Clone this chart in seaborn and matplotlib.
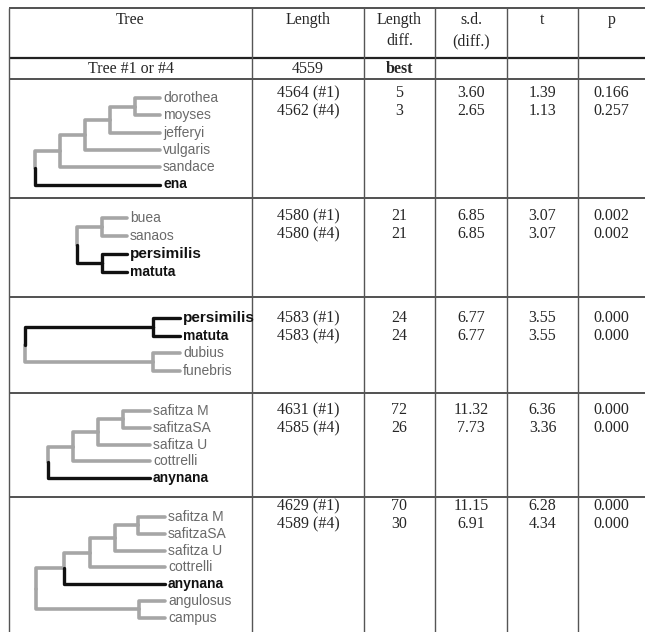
import pandas as pd
import matplotlib.pyplot as plt
import seaborn as sns

sns.set_style("white")
plt.rcParams['font.family'] = ['Liberation Serif', 'DejaVu Serif']

# table values (tree #1 / tree #4 comparisons)
best_length = 4559
length_1 = [4564, 4580, 4583, 4631, 4629]
length_4 = [4562, 4580, 4583, 4585, 4589]
diff_1 = [5, 21, 24, 72, 70]
diff_4 = [3, 21, 24, 26, 30]
sd_1 = [3.60, 6.85, 6.77, 11.32, 11.15]
sd_4 = [2.65, 6.85, 6.77, 7.73, 6.91]
t_1 = [1.39, 3.07, 3.55, 6.36, 6.28]
t_4 = [1.13, 3.07, 3.55, 3.36, 4.34]
p_1 = [0.166, 0.002, 0.000, 0.000, 0.000]
p_4 = [0.257, 0.002, 0.000, 0.000, 0.000]

# constraint trees (branch lengths in plot units) and highlighted taxa
trees = [
    "(((((dorothea:1,moyses:1):1,jefferyi:2):1,vulgaris:3):1,sandace:4):1,ena:5);",
    "((buea:1,sanaos:1):1,(persimilis:1,matuta:1):1);",
    "((persimilis:1.1,matuta:1.1):5.1,(dubius:1.1,funebris:1.1):5.1);",
    "((((safitza M:1.1,safitzaSA:1.1):1,safitza U:2.1):1,cottrelli:3.1):1,anynana:4.1);",
    "(((((safitza M:1.1,safitzaSA:1.1):0.9,safitza U:2):1,cottrelli:3):1.05,anynana:4.05):1.1,"
    "(angulosus:1.05,campus:1.05):4.1);",
]
highlight = [{"ena"}, {"persimilis", "matuta"}, {"persimilis", "matuta"},
             {"anynana"}, {"anynana"}]

# layout (pixels)
col_x = [9, 252, 364, 435, 507, 578]
row_lines = [8, 58, 79, 198, 297, 393, 497]
block_y = [93, 216, 318, 410, 506]
tip_x = [160, 127, 180, 150, 165]
tip_y0 = [98, 218, 318, 411, 517]
tip_dy = [17.3, 18, 17.7, 16.8, 16.8]
unit = 25


def parse(s):
    s = s.strip().rstrip(';')
    pos = 0

    def node():
        nonlocal pos
        kids = []
        name = ''
        if s[pos] == '(':
            pos += 1
            kids.append(node())
            while s[pos] == ',':
                pos += 1
                kids.append(node())
            pos += 1
        else:
            start = pos
            while s[pos] not in ':,)':
                pos += 1
            name = s[start:pos]
        length = 0.0
        if pos < len(s) and s[pos] == ':':
            pos += 1
            start = pos
            while pos < len(s) and s[pos] not in ',)':
                pos += 1
            length = float(s[start:pos])
        return {'name': name, 'len': length, 'kids': kids}
    return node()


def layout(tree, x_end, y0, dy, hl):
    tips = []

    def depth(n, d):
        n['d'] = d + n['len']
        for k in n['kids']:
            depth(k, n['d'])
    depth(tree, -tree['len'])

    def maxd(n):
        return max([n['d']] + [maxd(k) for k in n['kids']])
    root_x = x_end - unit * maxd(tree)

    def place(n):
        n['x'] = root_x + unit * n['d']
        if not n['kids']:
            n['y'] = y0 + dy * len(tips)
            tips.append(n)
            n['hl'] = n['name'] in hl
        else:
            for k in n['kids']:
                place(k)
            n['y'] = (n['kids'][0]['y'] + n['kids'][-1]['y']) / 2
            n['hl'] = all(k['hl'] for k in n['kids'])
    place(tree)
    return tips


segs = []
labels = []
for i, nwk in enumerate(trees):
    tree = parse(nwk)
    tips = layout(tree, tip_x[i], tip_y0[i], tip_dy[i], highlight[i])
    stack = [tree]
    while stack:
        n = stack.pop()
        for k in n['kids']:
            sid = len(segs)
            c = 'black' if k['hl'] else 'gray'
            segs += [dict(seg=sid, x=n['x'], y=n['y'], color=c, o=0),
                     dict(seg=sid, x=n['x'], y=k['y'], color=c, o=1),
                     dict(seg=sid, x=k['x'], y=k['y'], color=c, o=2)]
            stack.append(k)
    for tp in tips:
        labels.append((tp['x'] + 3, tp['y'], tp['name'], tp['hl']))

df = pd.DataFrame(segs)
df['seg'] = df['seg'].astype(str)

fig = plt.figure(figsize=(6.45, 6.32), dpi=100)
ax = fig.add_axes([0, 0, 1, 1])

for c, lw in [('gray', 2.6), ('black', 2.4)]:
    sub = df[df['color'] == c]
    sns.lineplot(data=sub, x='x', y='y', units='seg', estimator=None, sort=False,
                 color='#a6a6a6' if c == 'gray' else '#111111', lw=lw, ax=ax, legend=False)

for x, y, name, hl in labels:
    big = hl and name == 'persimilis'
    ax.text(x, y, name, family=['Liberation Sans', 'DejaVu Sans'],
            fontsize=11 if big else (10 if hl else 10), fontweight='bold' if hl else 'normal',
            color='#111111' if hl else '#6a6a6a', va='center', ha='left')

# grid of the table
for y in row_lines:
    ax.hlines(y, col_x[0], 645, color='#222222', lw=1.6 if y == 58 else 1.1)
ax.vlines(col_x, row_lines[0], 632, color='#555555', lw=1.0)

fs = 11.5
centers = [(col_x[j] + col_x[j + 1]) / 2 for j in range(5)] + [(578 + 645) / 2]
ax.text(centers[0], 20, "Tree", ha='center', va='center', fontsize=fs)
ax.text(centers[1], 20, "Length", ha='center', va='center', fontsize=fs)
ax.text(centers[2], 20, "Length", ha='center', va='center', fontsize=fs)
ax.text(centers[2], 41, "diff.", ha='center', va='center', fontsize=fs)
ax.text(centers[3], 20, "s.d.", ha='center', va='center', fontsize=fs)
ax.text(centers[3], 41, "(diff.)", ha='center', va='center', fontsize=fs)
ax.text(centers[4], 20, "t", ha='center', va='center', fontsize=fs)
ax.text(centers[5], 20, "p", ha='center', va='center', fontsize=fs)

ax.text(centers[0], 69, "Tree #1 or #4", ha='center', va='center', fontsize=fs)
ax.text(centers[1], 69, str(best_length), ha='center', va='center', fontsize=fs)
ax.text(centers[2], 69, "best", ha='center', va='center', fontsize=fs, fontweight='bold')

for b in range(5):
    rows = [(length_1[b], '#1', diff_1[b], sd_1[b], t_1[b], p_1[b]),
            (length_4[b], '#4', diff_4[b], sd_4[b], t_4[b], p_4[b])]
    for r, (ln, tag, d, sd, tv, pv) in enumerate(rows):
        y = block_y[b] + 18 * r
        ax.text(centers[1], y, f"{ln} ({tag})", ha='center', va='center', fontsize=fs)
        ax.text(centers[2], y, f"{d}", ha='center', va='center', fontsize=fs)
        ax.text(centers[3], y, f"{sd:.2f}", ha='center', va='center', fontsize=fs)
        ax.text(centers[4], y, f"{tv:.2f}", ha='center', va='center', fontsize=fs)
        ax.text(centers[5], y, f"{pv:.3f}", ha='center', va='center', fontsize=fs)

ax.set_xlim(0, 645)
ax.set_ylim(632, 0)
ax.axis('off')
fig.savefig('out.png', dpi=100)
